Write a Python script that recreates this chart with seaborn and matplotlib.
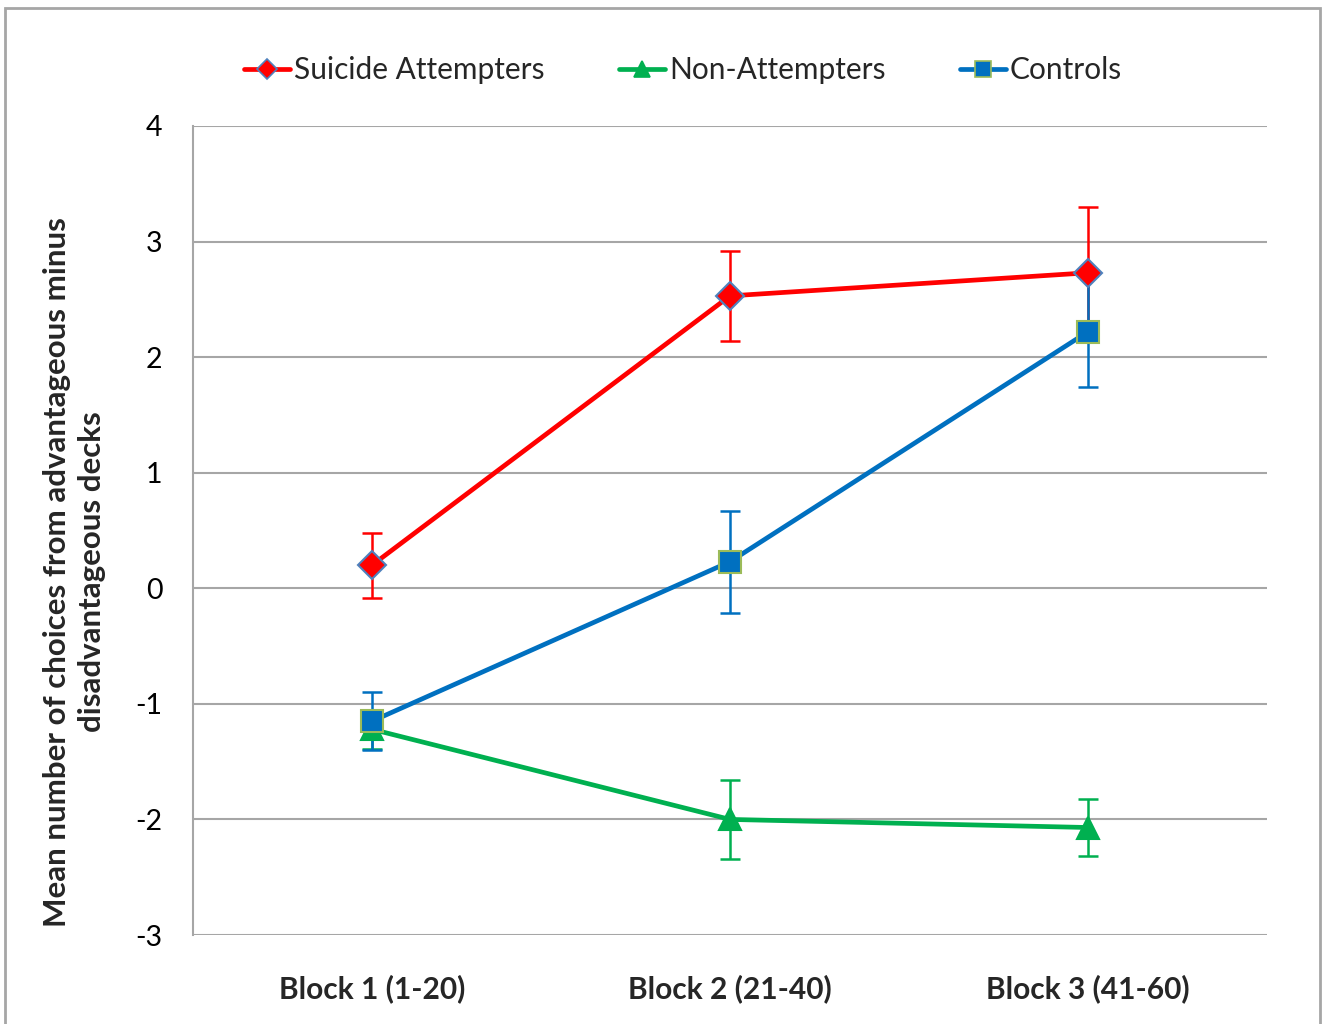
import matplotlib
matplotlib.use("Agg")
import matplotlib.pyplot as plt
import seaborn as sns
import pandas as pd
from matplotlib.lines import Line2D
from matplotlib.patches import Rectangle

# Block labels and group results (mean and error half-width per block)
blocks = ["Block 1 (1-20)", "Block 2 (21-40)", "Block 3 (41-60)"]
groups = ["Suicide Attempters", "Non-Attempters", "Controls"]
attempters_mean = [0.20, 2.53, 2.73]
attempters_err = [0.28, 0.39, 0.57]
non_attempters_mean = [-1.22, -2.00, -2.07]
non_attempters_err = [0.17, 0.34, 0.25]
controls_mean = [-1.15, 0.23, 2.22]
controls_err = [0.25, 0.44, 0.48]

means = [attempters_mean, non_attempters_mean, controls_mean]
errs = [attempters_err, non_attempters_err, controls_err]

rows = []
for g, m, e in zip(groups, means, errs):
    for i, b in enumerate(blocks):
        rows.append({"group": g, "block": b, "pos": i, "mean": m[i], "err": e[i]})
df = pd.DataFrame(rows)

sns.set_theme(style="white")
plt.rcParams["font.family"] = ["Lato", "DejaVu Sans"]
plt.rcParams["axes.unicode_minus"] = False

styles = {
    "Suicide Attempters": dict(color="#FF0000", marker="D", mec="#4F81BD", ms=14, z=3.0),
    "Non-Attempters": dict(color="#00B050", marker="^", mec="#00B050", ms=16, z=3.1),
    "Controls": dict(color="#0070C0", marker="s", mec="#9BBB59", ms=16, z=3.2),
}

fig = plt.figure(figsize=(13.29, 10.24), dpi=100)
ax = fig.add_axes([193 / 1329, 1 - 935 / 1024, (1267 - 193) / 1329, (935 - 126) / 1024])

# outer chart frame
fig.patches.append(Rectangle((5 / 1329, -0.02), (1320 - 5) / 1329, (1024 - 8) / 1024 + 0.02,
                             transform=fig.transFigure, fill=False,
                             edgecolor="#A6A6A6", linewidth=2, zorder=0))

# lines and error bars first, markers on top
for g in groups:
    s = styles[g]
    sub = df[df["group"] == g]
    ax.errorbar(sub["pos"], sub["mean"], yerr=sub["err"], fmt="none",
                ecolor=s["color"], elinewidth=1.8, capsize=7, capthick=1.8,
                zorder=s["z"])
    sns.lineplot(data=sub, x="pos", y="mean", ax=ax, color=s["color"],
                 linewidth=3.4, zorder=s["z"], legend=False)

marker_z = {"Non-Attempters": 6, "Controls": 7, "Suicide Attempters": 8}
for g in groups:
    s = styles[g]
    sub = df[df["group"] == g]
    ax.plot(sub["pos"], sub["mean"], linestyle="none", marker=s["marker"],
            markersize=s["ms"], markerfacecolor=s["color"],
            markeredgecolor=s["mec"], markeredgewidth=1.5, zorder=marker_z[g])

ax.set_xlim(-0.5, 2.5)
ax.set_ylim(-3, 4)
ax.set_yticks(range(-3, 5))
ax.set_xticks(range(len(blocks)))
ax.set_xticklabels(blocks, fontsize=21.5, fontweight="bold")
ax.tick_params(axis="y", labelsize=20.5, length=0, pad=22)
ax.tick_params(axis="x", length=0, pad=28)
for t in ax.get_yticklabels():
    t.set_color("black")
ax.grid(axis="y", color="#A6A6A6", linewidth=1.5)
ax.grid(axis="x", visible=False)
for side in ["top", "right", "bottom"]:
    ax.spines[side].set_visible(False)
ax.spines["left"].set_color("#A6A6A6")
ax.spines["left"].set_linewidth(1.5)
ax.set_xlabel("")
ax.set_ylabel("Mean number of choices from advantageous minus\ndisadvantageous decks",
              fontsize=22.5, fontweight="bold", linespacing=1.3)
ax.yaxis.set_label_coords(-0.081, 0.449)

handles = []
for g in groups:
    s = styles[g]
    handles.append(Line2D([0], [0], color=s["color"], linewidth=3.4, marker=s["marker"],
                          markersize=s["ms"] * 0.75, markeredgecolor=s["mec"],
                          markeredgewidth=1.2))
fig.legend(handles, groups, loc="center", bbox_to_anchor=(683 / 1329, 1 - 70 / 1024),
           ncol=3, frameon=False, fontsize=21.5, handlelength=1.55, handletextpad=0.12,
           columnspacing=2.5)

fig.savefig("out.png", dpi=100)
